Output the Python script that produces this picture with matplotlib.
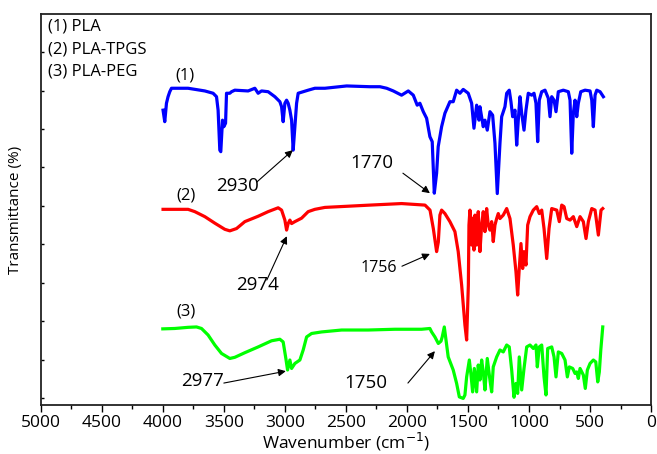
import matplotlib
matplotlib.use("Agg")
import matplotlib.pyplot as plt

plt.rcParams['font.family'] = ['Open Sans', 'DejaVu Sans']

# (1) PLA
wn1 = [3998, 3984, 3970, 3957, 3943, 3929, 3793, 3656, 3588, 3560, 3547, 3533, 3525, 3511, 3500, 3486,
       3478, 3451, 3437, 3410, 3301, 3246, 3219, 3191, 3137, 3082, 3041, 3027, 3014, 3000, 2986, 2973,
       2959, 2945, 2932, 2918, 2904, 2891, 2809, 2754, 2672, 2494, 2303, 2221, 2166, 2112, 2044, 1989,
       1948, 1916, 1894, 1866, 1839, 1812, 1793, 1776, 1757, 1744, 1716, 1689, 1648, 1621, 1593, 1566,
       1539, 1498, 1470, 1451, 1429, 1410, 1402, 1375, 1361, 1342, 1320, 1298, 1279, 1260, 1238, 1224,
       1197, 1183, 1162, 1148, 1134, 1115, 1101, 1088, 1074, 1060, 1041, 1025, 1006, 978, 959, 943,
       929, 916, 896, 869, 842, 828, 814, 795, 779, 760, 719, 678, 664, 650, 637, 623,
       609, 596, 576, 541, 500, 486, 473, 459, 445, 418, 391]
t1 = [74.9, 71.9, 76.7, 78.4, 79.7, 80.6, 80.6, 79.9, 79.3, 78.4, 74.9, 64.5, 64.1, 72.3, 70.6, 71.5,
      79.3, 79.3, 79.7, 80.1, 79.9, 80.6, 79.3, 79.9, 79.7, 78.4, 77.1, 75.8, 71.9, 76.7, 77.5, 76.7,
      74.9, 72.3, 64.5, 70.6, 76.7, 79.3, 80.1, 80.6, 80.6, 81.2, 81.0, 81.0, 80.6, 79.9, 78.8, 79.9,
      78.8, 76.2, 76.7, 74.5, 72.8, 68.0, 66.7, 53.3, 58.5, 65.4, 70.6, 74.1, 77.1, 77.1, 80.1, 79.3,
      80.3, 79.3, 76.7, 70.2, 76.2, 72.3, 75.8, 70.6, 72.3, 69.7, 74.5, 73.6, 66.3, 53.2, 66.3, 73.2,
      75.8, 79.3, 80.1, 77.1, 73.2, 74.9, 65.8, 72.3, 78.4, 74.1, 69.7, 74.9, 79.3, 78.8, 79.3, 76.7,
      66.7, 77.5, 79.7, 80.1, 78.0, 73.2, 78.4, 77.5, 74.5, 79.7, 80.1, 79.7, 77.5, 63.7, 74.1, 77.5,
      73.2, 76.7, 79.7, 80.1, 79.9, 77.5, 70.6, 78.8, 80.1, 79.7, 78.4]

# (2) PLA-TPGS
wn2 = [3998, 3793, 3738, 3656, 3574, 3492, 3451, 3396, 3328, 3219, 3137, 3055, 3027, 3000, 2986, 2973,
       2959, 2945, 2918, 2863, 2809, 2754, 2672, 2303, 2044, 1852, 1811, 1784, 1757, 1743, 1730, 1716,
       1689, 1648, 1607, 1580, 1552, 1525, 1511, 1497, 1492, 1484, 1470, 1462, 1451, 1443, 1429, 1416,
       1402, 1388, 1375, 1361, 1347, 1334, 1320, 1306, 1293, 1279, 1265, 1252, 1238, 1211, 1183, 1156,
       1129, 1107, 1093, 1080, 1066, 1052, 1041, 1025, 1011, 992, 965, 937, 916, 896, 877, 855,
       836, 814, 773, 752, 732, 713, 691, 664, 637, 609, 582, 555, 533, 514, 486, 459,
       432, 410, 396]
t2 = [49.1, 49.1, 48.5, 47.2, 45.5, 43.9, 43.5, 44.1, 45.9, 47.3, 48.5, 49.5, 48.9, 46.3, 43.7, 45.4,
      46.3, 45.4, 45.9, 46.8, 48.5, 49.1, 49.6, 50.2, 50.6, 50.2, 48.9, 44.1, 38.1, 40.6, 47.6, 48.9,
      48.0, 45.9, 43.3, 38.1, 29.4, 19.0, 15.1, 29.4, 45.0, 48.9, 39.8, 46.8, 38.5, 47.6, 39.8, 48.5,
      38.1, 45.0, 48.5, 43.3, 49.3, 45.0, 43.7, 45.9, 40.7, 45.0, 46.7, 48.0, 46.7, 47.6, 49.3, 46.7,
      39.8, 32.9, 26.8, 33.7, 40.2, 33.7, 38.1, 34.6, 45.0, 47.2, 48.9, 49.8, 48.0, 48.9, 44.1, 36.3,
      44.1, 49.3, 48.9, 45.9, 50.2, 49.8, 46.7, 46.3, 47.2, 44.6, 47.2, 45.9, 41.5, 45.9, 49.3, 48.9,
      42.4, 48.9, 49.3]

# (3) PLA-PEG
wn3 = [4000, 3902, 3793, 3724, 3683, 3629, 3574, 3519, 3451, 3410, 3328, 3219, 3109, 3041, 3014, 2992,
       2978, 2959, 2945, 2918, 2877, 2850, 2822, 2781, 2699, 2535, 2317, 2098, 1880, 1812, 1798, 1771,
       1743, 1721, 1711, 1694, 1680, 1662, 1621, 1593, 1571, 1539, 1525, 1511, 1489, 1475, 1462, 1448,
       1429, 1416, 1402, 1388, 1375, 1361, 1342, 1320, 1306, 1293, 1265, 1238, 1211, 1183, 1162, 1142,
       1123, 1107, 1093, 1080, 1060, 1041, 1019, 992, 965, 943, 932, 916, 896, 877, 861, 847,
       814, 795, 779, 760, 732, 705, 686, 670, 642, 623, 609, 596, 582, 555, 539, 522,
       500, 473, 453, 437, 424, 412, 396]
t3 = [18.0, 18.1, 18.4, 18.5, 18.1, 16.4, 13.8, 11.6, 10.3, 10.6, 11.8, 13.3, 14.9, 15.3, 14.6, 10.3,
      7.3, 9.9, 7.7, 9.0, 9.9, 12.5, 15.9, 16.8, 17.2, 17.7, 17.7, 17.9, 17.9, 18.1, 17.2, 15.9,
      14.2, 14.8, 15.9, 18.5, 15.1, 10.7, 7.3, 3.8, 0.3, -0.1, 0.8, 5.5, 9.9, 6.0, 1.6, 7.7,
      1.6, 8.6, 4.7, 9.9, 6.8, 2.1, 10.3, 4.7, 1.6, 8.1, 10.7, 12.5, 12.0, 13.8, 13.3, 7.3,
      0.2, 3.8, 1.2, 10.7, 2.1, 7.7, 13.3, 13.8, 12.9, 13.8, 8.1, 13.3, 13.8, 5.5, 0.8, 12.9,
      13.3, 10.7, 5.5, 12.0, 11.6, 9.9, 5.5, 8.1, 7.7, 6.4, 6.8, 5.1, 7.7, 6.0, 2.5, 7.3,
      9.0, 9.9, 9.4, 4.2, 6.8, 12.5, 18.5]

legend_lines = ["(1) PLA", "(2) PLA-TPGS", "(3) PLA-PEG"]
curve_tags = ["(1)", "(2)", "(3)"]
tag_pos = [(3820, 84.0), (3812, 52.6), (3812, 22.4)]

# peak annotations: label, text position, arrow tail, arrow head, font size
peaks = [
    ("2930", (3385, 55.2), (3230, 56.2), (2935, 64.5), 13.5),
    ("1770", (2287, 61.1), (2033, 58.5), (1812, 53.3), 13.5),
    ("2974", (3221, 29.4), (3148, 30.7), (2984, 42.1), 13.5),
    ("2977", (3672, 4.4), (3500, 3.9), (2992, 7.0), 13.5),
    ("1756", (2230, 33.8), (2041, 34.3), (1812, 37.5), 11.5),
    ("1750", (2336, 3.9), (1992, 3.9), (1771, 12.2), 13.5),
]

fig = plt.figure(figsize=(6.57, 4.54), dpi=100)
ax = fig.add_axes([0.062, 0.108, 0.929, 0.861])

ax.plot(wn1, t1, color='#0000ff', lw=2.3, solid_joinstyle='round')
ax.plot(wn2, t2, color='#ff0000', lw=2.3, solid_joinstyle='round')
ax.plot(wn3, t3, color='#00ff00', lw=2.3, solid_joinstyle='round')

ax.set_xlim(5000, 0)
ax.set_ylim(-1.8, 99.9)
ax.set_xticks(range(5000, -1, -500))
ax.set_xticks(range(4750, 0, -500), minor=True)
ax.set_yticks(range(0, 91, 10))
ax.set_yticklabels([])
ax.tick_params(axis='x', which='major', direction='out', length=5, width=1, labelsize=12.5, pad=2)
ax.tick_params(axis='x', which='minor', direction='out', length=3, width=1)
ax.tick_params(axis='y', which='major', direction='in', length=2, width=1)
for s in ax.spines.values():
    s.set_linewidth(1.3)
    s.set_color('#222222')

ax.set_xlabel("Wavenumber (cm$^{-1}$)", fontsize=12.5, labelpad=0)
ax.set_ylabel("Transmittance (%)", fontsize=11, labelpad=9)

for i, line in enumerate(legend_lines):
    ax.text(0.012, [0.967, 0.910, 0.854][i], line, transform=ax.transAxes,
            ha='left', va='center', fontsize=12)

for tag, (x, y) in zip(curve_tags, tag_pos):
    ax.text(x, y, tag, ha='center', va='center', fontsize=12)

for label, tpos, tail, head, fs in peaks:
    ax.text(tpos[0], tpos[1], label, ha='center', va='center', fontsize=fs)
    ax.annotate('', xy=head, xytext=tail,
                arrowprops=dict(arrowstyle='-|>', color='black', lw=0.8,
                                mutation_scale=11, shrinkA=0, shrinkB=0))

fig.savefig("out.png", dpi=100)
